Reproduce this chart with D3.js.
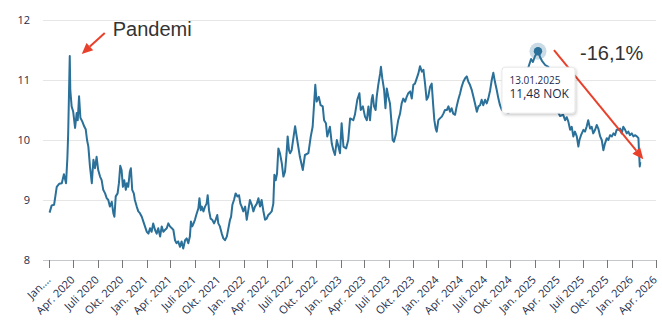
<!DOCTYPE html>
<html>
<head>
<meta charset="utf-8">
<script src="https://cdn.jsdelivr.net/npm/d3@7"></script>
<style>
  html, body { margin: 0; padding: 0; background: #fff; }
  svg { display: block; }
</style>
</head>
<body>
<svg id="chart" width="662" height="328"></svg>
<script>
// Daily closing price (NOK), sampled
const dates = [
  "2020-01-02","2020-01-10","2020-01-19","2020-01-29","2020-02-07","2020-02-17","2020-02-25","2020-03-04","2020-03-09","2020-03-12",
  "2020-03-18","2020-03-20","2020-03-25","2020-03-31","2020-04-07","2020-04-13","2020-04-17","2020-04-22","2020-04-27","2020-05-04",
  "2020-05-12","2020-05-17","2020-05-22","2020-05-27","2020-06-02","2020-06-09","2020-06-15","2020-06-21","2020-06-27","2020-07-03",
  "2020-07-10","2020-07-16","2020-07-22","2020-07-29","2020-08-04","2020-08-10","2020-08-16","2020-08-23","2020-08-29","2020-09-02",
  "2020-09-07","2020-09-14","2020-09-19","2020-09-24","2020-09-29","2020-10-04","2020-10-09","2020-10-15","2020-10-19","2020-10-24",
  "2020-10-30","2020-11-03","2020-11-08","2020-11-14","2020-11-18","2020-11-25","2020-12-01","2020-12-07","2020-12-14","2020-12-20",
  "2020-12-26","2021-01-02","2021-01-08","2021-01-14","2021-01-20","2021-01-26","2021-02-02","2021-02-08","2021-02-14","2021-02-21",
  "2021-02-27","2021-03-05","2021-03-11","2021-03-18","2021-03-24","2021-03-30","2021-04-06","2021-04-12","2021-04-18","2021-04-24",
  "2021-04-30","2021-05-07","2021-05-13","2021-05-19","2021-05-26","2021-06-01","2021-06-07","2021-06-13","2021-06-17","2021-06-22",
  "2021-06-27","2021-07-02","2021-07-09","2021-07-15","2021-07-19","2021-07-24","2021-07-28","2021-08-03","2021-08-09","2021-08-15",
  "2021-08-19","2021-08-24","2021-08-30","2021-09-05","2021-09-12","2021-09-18","2021-09-24","2021-09-28","2021-10-04","2021-10-11",
  "2021-10-17","2021-10-23","2021-10-30","2021-11-05","2021-11-11","2021-11-15","2021-11-20","2021-11-26","2021-12-02","2021-12-09",
  "2021-12-15","2021-12-20","2021-12-25","2021-12-31","2022-01-07","2022-01-13","2022-01-19","2022-01-25","2022-02-01","2022-02-07",
  "2022-02-13","2022-02-20","2022-02-26","2022-03-04","2022-03-10","2022-03-16","2022-03-23","2022-03-29","2022-04-04","2022-04-11",
  "2022-04-17","2022-04-23","2022-04-27","2022-05-02","2022-05-07","2022-05-12","2022-05-18","2022-05-25","2022-05-31","2022-06-06",
  "2022-06-12","2022-06-16","2022-06-21","2022-06-25","2022-07-01","2022-07-14","2022-07-22","2022-08-01","2022-08-12","2022-08-20",
  "2022-09-02","2022-09-11","2022-09-18","2022-09-28","2022-10-03","2022-10-11","2022-10-18","2022-10-26","2022-10-31","2022-11-07",
  "2022-11-12","2022-11-22","2022-11-29","2022-12-05","2022-12-11","2022-12-18","2022-12-24","2022-12-30","2023-01-05","2023-01-12",
  "2023-01-22","2023-01-30","2023-02-06","2023-02-18","2023-02-24","2023-03-05","2023-03-13","2023-03-18","2023-03-26","2023-04-03",
  "2023-04-10","2023-04-16","2023-04-22","2023-04-28","2023-05-02","2023-05-07","2023-05-13","2023-05-17","2023-05-23","2023-05-30",
  "2023-06-02","2023-06-07","2023-06-14","2023-06-19","2023-06-24","2023-06-30","2023-07-06","2023-07-13","2023-07-16","2023-07-21",
  "2023-07-29","2023-08-06","2023-08-13","2023-08-19","2023-08-25","2023-09-01","2023-09-07","2023-09-13","2023-09-20","2023-09-26",
  "2023-10-02","2023-10-08","2023-10-15","2023-10-21","2023-10-27","2023-11-03","2023-11-09","2023-11-15","2023-11-21","2023-11-27",
  "2023-12-04","2023-12-10","2023-12-16","2023-12-20","2023-12-25","2023-12-29","2024-01-04","2024-01-10","2024-01-17","2024-01-23",
  "2024-01-29","2024-02-05","2024-02-11","2024-02-17","2024-02-23","2024-02-29","2024-03-07","2024-03-13","2024-03-19","2024-03-26",
  "2024-04-01","2024-04-07","2024-04-14","2024-04-20","2024-04-26","2024-05-02","2024-05-09","2024-05-15","2024-05-21","2024-05-28",
  "2024-06-03","2024-06-09","2024-06-15","2024-06-21","2024-06-28","2024-07-04","2024-07-10","2024-07-17","2024-07-23","2024-07-29",
  "2024-08-04","2024-08-11","2024-08-17","2024-08-23","2024-08-30","2024-09-11","2024-09-24","2024-10-07","2024-10-23","2024-11-07",
  "2024-11-22","2024-12-07","2024-12-18","2024-12-25","2025-01-02","2025-01-13","2025-01-21","2025-01-28","2025-02-09","2025-02-21",
  "2025-03-03","2025-03-14","2025-03-26","2025-04-06","2025-04-18","2025-04-25","2025-05-01","2025-05-07","2025-05-14","2025-05-20",
  "2025-05-26","2025-06-01","2025-06-08","2025-06-14","2025-06-18","2025-06-24","2025-07-03","2025-07-09","2025-07-15","2025-07-21",
  "2025-07-28","2025-08-03","2025-08-09","2025-08-16","2025-08-22","2025-08-28","2025-09-04","2025-09-10","2025-09-16","2025-09-22",
  "2025-09-29","2025-10-05","2025-10-11","2025-10-18","2025-10-24","2025-10-30","2025-11-05","2025-11-11","2025-11-18","2025-11-24",
  "2025-11-30","2025-12-07","2025-12-13","2025-12-19","2025-12-25","2026-01-01","2026-01-07","2026-01-13","2026-01-20","2026-01-26",
  "2026-01-28","2026-01-31","2026-02-02"
];

const prices = [
  8.79, 8.91, 8.92, 9.22, 9.27, 9.28, 9.43, 9.28, 9.70, 10.10,
  11.40, 10.83, 10.56, 10.47, 10.20, 10.45, 10.33, 10.73, 10.37, 10.31,
  10.22, 10.18, 10.00, 9.89, 9.56, 9.28, 9.67, 9.53, 9.72, 9.50,
  9.39, 9.33, 9.17, 9.11, 9.03, 9.00, 8.89, 8.97, 8.78, 8.72,
  9.06, 9.11, 9.28, 9.57, 9.50, 9.22, 9.33, 9.17, 9.28, 9.22,
  9.47, 9.53, 9.17, 9.11, 9.00, 8.89, 8.81, 8.78, 8.72, 8.64,
  8.56, 8.47, 8.44, 8.53, 8.47, 8.61, 8.50, 8.44, 8.53, 8.39,
  8.56, 8.47, 8.50, 8.53, 8.61, 8.56, 8.53, 8.50, 8.33, 8.28,
  8.31, 8.22, 8.31, 8.19, 8.33, 8.36, 8.28, 8.39, 8.64, 8.56,
  8.61, 8.67, 8.78, 8.86, 9.03, 8.83, 8.89, 8.81, 8.89, 8.94,
  9.08, 8.83, 8.69, 8.67, 8.61, 8.67, 8.75, 8.61, 8.56, 8.44,
  8.36, 8.33, 8.39, 8.53, 8.67, 8.72, 8.92, 9.00, 9.11, 9.06,
  9.08, 8.94, 8.89, 8.81, 8.89, 8.67, 8.83, 9.00, 8.92, 8.81,
  8.89, 8.94, 9.03, 8.89, 9.00, 8.83, 8.67, 8.69, 8.75, 8.78,
  8.81, 8.94, 9.42, 9.33, 9.44, 9.86, 9.78, 9.61, 9.39, 9.47,
  9.78, 10.06, 9.83, 9.78, 9.83, 10.23, 10.00, 9.72, 9.50, 9.75,
  9.78, 10.06, 10.22, 10.92, 10.64, 10.72, 10.58, 10.56, 10.33, 10.28,
  10.06, 10.22, 9.94, 9.83, 9.75, 10.00, 9.89, 9.78, 10.28, 9.89,
  9.86, 10.00, 10.36, 10.33, 10.42, 10.67, 10.78, 10.50, 10.56, 10.39,
  10.33, 10.56, 10.33, 10.67, 10.75, 10.56, 10.50, 10.72, 10.92, 11.11,
  11.22, 11.03, 10.83, 10.53, 10.86, 10.72, 10.61, 10.22, 10.00, 9.97,
  10.11, 10.33, 10.44, 10.61, 10.69, 10.64, 10.72, 10.78, 10.81, 10.69,
  10.92, 10.94, 11.03, 11.11, 11.23, 11.14, 11.17, 10.94, 10.67, 10.72,
  10.89, 10.94, 10.56, 10.33, 10.19, 10.14, 10.33, 10.36, 10.39, 10.44,
  10.50, 10.50, 10.56, 10.47, 10.53, 10.44, 10.42, 10.56, 10.67, 10.78,
  10.89, 10.97, 11.03, 11.06, 10.97, 10.92, 10.83, 10.72, 10.61, 10.47,
  10.56, 10.58, 10.67, 10.58, 10.67, 10.61, 10.69, 10.83, 11.00, 11.12,
  10.97, 10.83, 10.69, 10.58, 10.50, 10.48, 10.45, 10.55, 10.70, 10.85,
  11.05, 11.20, 11.35, 11.30, 11.40, 11.48, 11.38, 11.32, 11.25, 11.22,
  11.00, 10.75, 10.50, 10.40, 10.42, 10.33, 10.38, 10.31, 10.17, 10.22,
  10.06, 10.14, 10.06, 9.89, 10.00, 10.08, 10.17, 10.14, 10.22, 10.33,
  10.19, 10.22, 10.11, 10.17, 10.25, 10.19, 10.06, 10.00, 9.83, 9.94,
  10.03, 10.00, 10.08, 10.06, 10.11, 10.08, 10.17, 10.17, 10.19, 10.11,
  10.22, 10.17, 10.11, 10.14, 10.08, 10.11, 10.06, 10.08, 10.06, 10.03,
  9.83, 9.56, 9.63
];

const yTicks = [8, 9, 10, 11, 12];
const tickLabels = [
  "Jan.\u2026", "Apr. 2020", "Juli 2020", "Okt. 2020",
  "Jan. 2021", "Apr. 2021", "Juli 2021", "Okt. 2021",
  "Jan. 2022", "Apr. 2022", "Juli 2022", "Okt. 2022",
  "Jan. 2023", "Apr. 2023", "Juli 2023", "Okt. 2023",
  "Jan. 2024", "Apr. 2024", "Juli 2024", "Okt. 2024",
  "Jan. 2025", "Apr. 2025", "Juli 2025", "Okt. 2025",
  "Jan. 2026", "Apr. 2026"
];
const eventLabel = "Pandemi";
const currency = "NOK";

const parse = d3.timeParse("%Y-%m-%d");
const series = dates.map((d, i) => ({ date: parse(d), value: prices[i] }));

const svg = d3.select("#chart");
const axisColor = "#1c2b4a";
const lineColor = "#2a7099";
const red = "#e8402a";

const x = d3.scaleTime()
  .domain([new Date(2020, 0, 1), new Date(2026, 3, 1)])
  .range([49.3, 655.7]);
const y = d3.scaleLinear().domain([8, 12]).range([260, 20]);

// horizontal grid
svg.append("g").selectAll("line").data(yTicks).join("line")
  .attr("x1", 43).attr("x2", 656)
  .attr("y1", d => y(d)).attr("y2", d => y(d))
  .attr("stroke", d => d === 8 ? "#c4c7cc" : "#e6e6e6")
  .attr("stroke-width", 1)
  .attr("shape-rendering", "crispEdges");

// y labels
svg.append("g").selectAll("text").data(yTicks).join("text")
  .attr("x", 30).attr("y", d => y(d) + 4)
  .attr("text-anchor", "end")
  .attr("font-family", "'Open Sans', sans-serif")
  .attr("font-size", 11)
  .attr("fill", axisColor)
  .text(d => d);

// x axis
const tickDates = d3.timeMonth.range(new Date(2020, 0, 1), new Date(2026, 3, 2), 3);
const xAxis = svg.append("g")
  .attr("transform", `translate(0,${y(8)})`)
  .call(d3.axisBottom(x).tickValues(tickDates).tickSize(8).tickFormat((d, i) => tickLabels[i]));
xAxis.select(".domain").remove();
xAxis.selectAll(".tick line").attr("stroke", "#777").attr("shape-rendering", "crispEdges");
xAxis.selectAll(".tick text")
  .attr("x", 0).attr("y", 0).attr("dy", 0)
  .attr("text-anchor", "end")
  .attr("transform", "translate(1.5,20.5) rotate(-45)")
  .attr("font-family", "'Open Sans', sans-serif")
  .attr("font-size", 11)
  .attr("fill", axisColor);

// price line
const line = d3.line().x(d => x(d.date)).y(d => y(d.value));
svg.append("path")
  .datum(series)
  .attr("d", line)
  .attr("fill", "none")
  .attr("stroke", lineColor)
  .attr("stroke-width", 2)
  .attr("stroke-linejoin", "round");

// arrow helper
function arrow(x1, y1, x2, y2) {
  const a = Math.atan2(y2 - y1, x2 - x1);
  const len = 11, half = 5;
  const bx = x2 - len * Math.cos(a), by = y2 - len * Math.sin(a);
  svg.append("line")
    .attr("x1", x1).attr("y1", y1).attr("x2", bx).attr("y2", by)
    .attr("stroke", red).attr("stroke-width", 2);
  const px = -Math.sin(a) * half, py = Math.cos(a) * half;
  svg.append("path")
    .attr("d", `M${x2},${y2}L${bx + px},${by + py}L${bx - px},${by - py}Z`)
    .attr("fill", red);
}

// pandemic peak annotation
const covidPeak = d3.greatest(series.filter(d => d.date.getFullYear() === 2020), d => d.value);
const cpx = x(covidPeak.date), cpy = y(covidPeak.value);
arrow(cpx + 35, cpy - 23, cpx + 12, cpy - 2);
svg.append("text")
  .attr("x", cpx + 43).attr("y", cpy - 20)
  .attr("font-family", "'Liberation Sans', Arial, sans-serif")
  .attr("font-size", 20)
  .attr("fill", "#333")
  .text(eventLabel);

// change from all-time high to last close
const high = d3.greatest(series, d => d.value);
const last = series[series.length - 1];
const hx = x(high.date), hy = y(high.value);
const lx = x(last.date), ly = y(last.value);
arrow(hx + 16, hy - 1, lx + 3, ly - 3);
const change = (last.value / high.value - 1) * 100;
svg.append("text")
  .attr("x", 580).attr("y", 60)
  .attr("font-family", "'Liberation Sans', Arial, sans-serif")
  .attr("font-size", 20)
  .attr("fill", "#333")
  .text(change.toFixed(1).replace(".", ",") + "%");

// hover marker on the high
svg.append("circle").attr("cx", hx).attr("cy", hy).attr("r", 8.5)
  .attr("fill", lineColor).attr("opacity", 0.25);
svg.append("circle").attr("cx", hx).attr("cy", hy).attr("r", 4.2)
  .attr("fill", lineColor);

// tooltip
const defs = svg.append("defs");
const f = defs.append("filter").attr("id", "shadow").attr("x", "-20%").attr("y", "-20%").attr("width", "140%").attr("height", "150%");
f.append("feDropShadow").attr("dx", 1).attr("dy", 1.5).attr("stdDeviation", 1.5)
  .attr("flood-color", "#000").attr("flood-opacity", 0.22);

const tip = svg.append("g").attr("transform", `translate(${hx - 36},${hy + 16})`);
tip.append("rect")
  .attr("width", 73).attr("height", 46).attr("rx", 3)
  .attr("fill", "#fff").attr("stroke", "#e2e2e2").attr("stroke-width", 0.8)
  .attr("filter", "url(#shadow)");
tip.append("text")
  .attr("x", 7.5).attr("y", 16.5)
  .attr("font-family", "'Open Sans', sans-serif")
  .attr("font-size", 10)
  .attr("fill", axisColor)
  .text(d3.timeFormat("%d.%m.%Y")(high.date));
tip.append("text")
  .attr("x", 7.5).attr("y", 31)
  .attr("font-family", "'Open Sans', sans-serif")
  .attr("font-size", 12)
  .attr("fill", axisColor)
  .text(high.value.toFixed(2).replace(".", ",") + " " + currency);
</script>
</body>
</html>
